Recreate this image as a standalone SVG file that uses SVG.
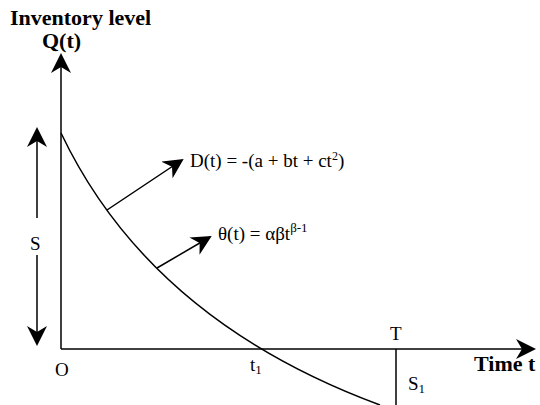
<svg xmlns="http://www.w3.org/2000/svg" width="540" height="405" viewBox="0 0 540 405">
<style>
.ln{stroke:#000;stroke-width:1.5;fill:none}
.t{font-family:'Liberation Serif','Times New Roman','DejaVu Serif',serif;font-size:19px;fill:#000}
.b{font-weight:bold;font-size:22px}
</style>
<defs>
<marker id="big" viewBox="0 0 10 10" refX="9" refY="5" markerWidth="20" markerHeight="20" markerUnits="userSpaceOnUse" orient="auto">
<path d="M0,0 L10,5 L0,10 L3,5 Z" fill="#000"/>
</marker>
</defs>
<g id="axes">
<line class="ln" x1="61" y1="349" x2="61" y2="55" marker-end="url(#big)"/>
<line class="ln" x1="61" y1="349" x2="534" y2="349" marker-end="url(#big)"/>
</g>
<g id="connectors">
<path id="curve" class="ln" d="M61,133 Q150,320 380,405"/>
<line class="ln" x1="396" y1="349" x2="396" y2="405"/>
<line class="ln" x1="37" y1="218" x2="37" y2="129" marker-end="url(#big)"/>
<line class="ln" x1="37" y1="255" x2="37" y2="344" marker-end="url(#big)"/>
<line class="ln" x1="107" y1="210" x2="182" y2="160" marker-end="url(#big)"/>
<line class="ln" x1="157" y1="268" x2="210" y2="237" marker-end="url(#big)"/>
</g>
<g id="labels">
<text class="t b" x="10" y="25">Inventory level</text>
<text class="t b" x="42" y="48">Q(t)</text>
<text class="t b" x="474" y="371">Time t</text>
<text class="t" x="30" y="250">S</text>
<text class="t" x="55" y="376">O</text>
<text class="t" x="250" y="371">t<tspan font-size="13" dy="3">1</tspan></text>
<text class="t" x="390" y="340">T</text>
<text class="t" x="408" y="390">S<tspan font-size="13" dy="3">1</tspan></text>
<text class="t" x="190" y="167">D(t) = -(a + bt + ct<tspan font-size="12" dy="-7">2</tspan><tspan dy="7">)</tspan></text>
<text class="t" x="218" y="240">θ(t) = αβt<tspan font-size="13" dy="-8">β-1</tspan></text>
</g>
</svg>
